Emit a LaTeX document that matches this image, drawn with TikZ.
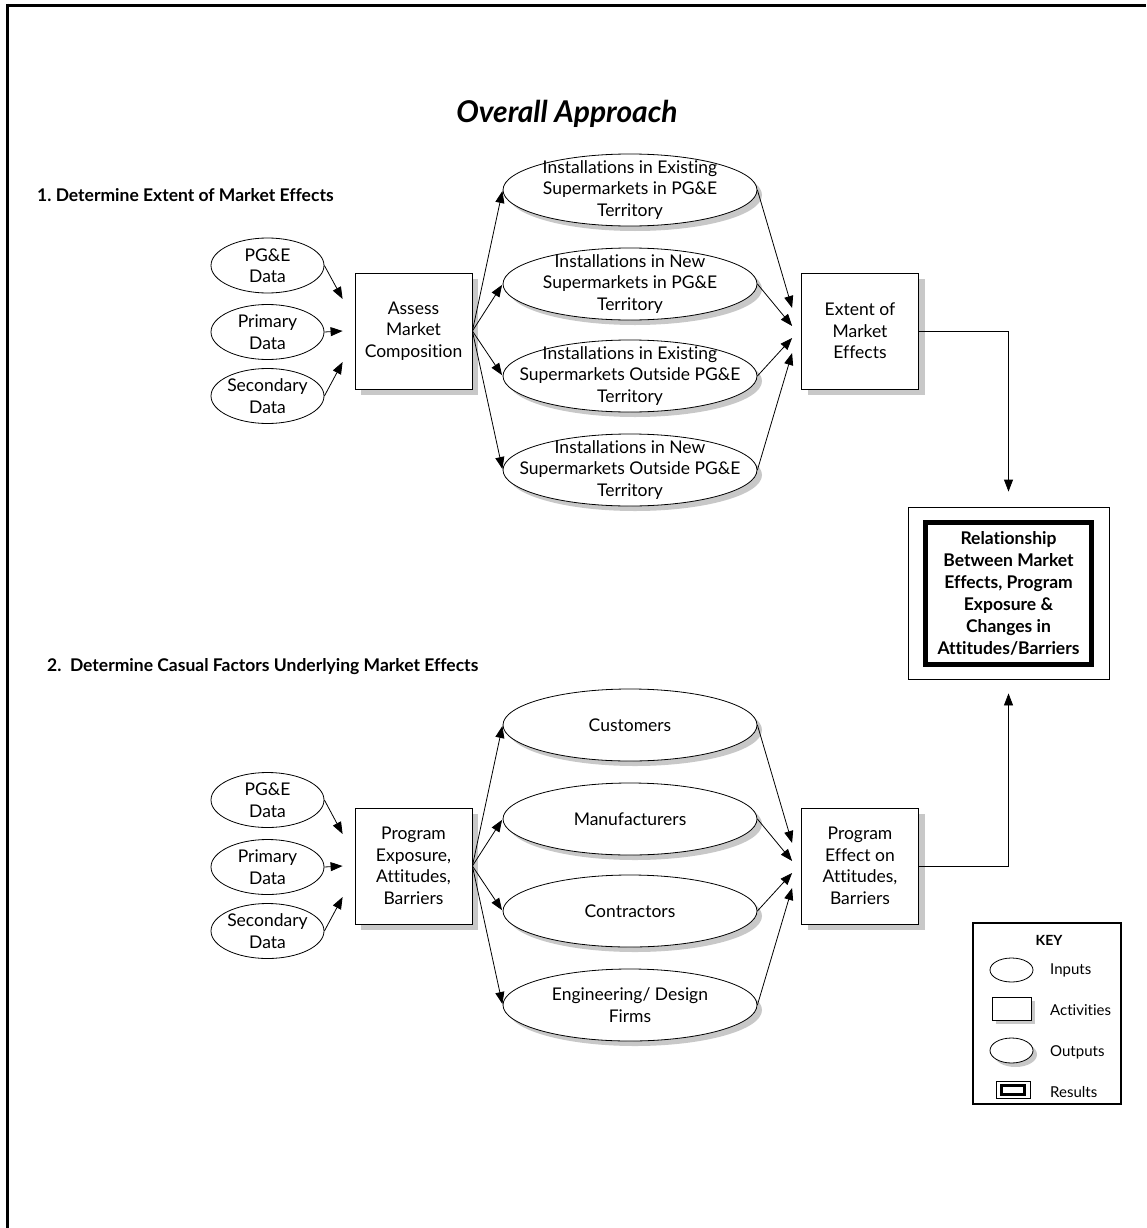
\documentclass[tikz,border=0pt]{standalone}
\usepackage{fontspec}
\setmainfont{Lato}[Ligatures={NoCommon}]
\usetikzlibrary{shapes.geometric,arrows.meta,shadows,calc}
\definecolor{shadowgray}{RGB}{200,200,200}
\begin{document}
\begin{tikzpicture}[x=1pt,y=-1pt,
  txt/.style={font=\fontsize{17.5}{21.5}\selectfont, align=center, inner sep=0},
  btxt/.style={font=\fontsize{17.5}{22}\selectfont\bfseries, align=center, inner sep=0},
  shad/.style={general shadow={fill=shadowgray, shadow xshift=#1, shadow yshift=-#1}},
  shad/.default=6pt,
  inell/.style={draw, ellipse, fill=white, minimum width=113, minimum height=55, inner sep=0, line width=0.8pt},
  outell/.style={draw, ellipse, fill=white, minimum width=254, minimum height=72, inner sep=0, line width=0.8pt, shad=5pt},
  actbox/.style={draw, fill=white, minimum width=117, minimum height=116, inner sep=0, line width=0.8pt, shad},
  arr/.style={-{Triangle[length=12pt,width=9pt]}, line width=0.8pt},
  keytxt/.style={font=\fontsize{15}{17}\selectfont, anchor=west, inner sep=0},
  headtxt/.style={anchor=west, font=\fontsize{17.5}{20}\selectfont\bfseries, inner sep=0}
]
\useasboundingbox (0,0) rectangle (1146,1228);
% frame
\draw[line width=3pt] (6,5.5) -- (1146,5.5);
\draw[line width=3pt] (7.5,4) -- (7.5,1228);

% title and headings
\node[font=\fontsize{30}{33}\selectfont\bfseries\itshape] (title) at (567,114) {Overall Approach};
\node[headtxt] (h1) at (37,195) {1.\ Determine Extent of Market Effects};
\node[headtxt] (h2) at (47,667) {2.\ \ Determine Casual Factors Underlying Market Effects};

% ---------- section 1 ----------
\node[inell, label={[txt]center:PG\&E\\Data}] (a1) at (267.5,265.5) {};
\node[inell, label={[txt]center:Primary\\Data}] (a2) at (267.5,332) {};
\node[inell, label={[txt]center:Secondary\\Data}] (a3) at (267.5,396) {};
\node[actbox, txt] (amc) at (413.5,331) {Assess\\Market\\Composition};
\node[outell, label={[txt]center:Installations in Existing\\Supermarkets in PG\&E\\Territory}] (o1) at (630,190) {};
\node[outell, label={[txt]center:Installations in New\\Supermarkets in PG\&E\\Territory}] (o2) at (630,284) {};
\node[outell, label={[txt]center:Installations in Existing\\Supermarkets Outside PG\&E\\Territory}] (o3) at (630,376) {};
\node[outell, label={[txt]center:Installations in New\\Supermarkets Outside PG\&E\\Territory}] (o4) at (630,470) {};
\node[actbox, txt] (ext) at (860,331) {Extent of\\Market\\Effects};

\draw[arr] (a1.east) -- ($(amc.west)+(-12,-32)$);
\draw[arr] (a2.east) -- ($(amc.west)+(-12,0)$);
\draw[arr] (a3.east) -- ($(amc.west)+(-12,31)$);
\foreach \o in {o1,o2,o3,o4} \draw[arr, shorten >=1pt] (amc.east) -- (\o.west);
\draw[arr] (o1.east) -- ($(ext.west)+(-9,-23)$);
\draw[arr] (o2.east) -- ($(ext.west)+(-9,-5)$);
\draw[arr] (o3.east) -- ($(ext.west)+(-9,7)$);
\draw[arr] (o4.east) -- ($(ext.west)+(-9,22)$);

% ---------- results ----------
\node[draw, line width=0.8pt, minimum width=201, minimum height=172, inner sep=0] (res) at (1008.5,593) {};
\node[draw, line width=5pt, minimum width=166, minimum height=142, inner sep=0, btxt] (resin) at (1008.5,593.5)
  {Relationship\\Between Market\\Effects, Program\\Exposure \&\\Changes in\\Attitudes/Barriers};
\draw[arr] (ext.east) -| ($(res.north)+(0,-15)$);

% ---------- section 2 ----------
\node[inell, label={[txt]center:PG\&E\\Data}] (b1) at (267.5,800) {};
\node[inell, label={[txt]center:Primary\\Data}] (b2) at (267.5,867) {};
\node[inell, label={[txt]center:Secondary\\Data}] (b3) at (267.5,931) {};
\node[actbox, txt] (pea) at (413.5,866) {Program\\Exposure,\\Attitudes,\\Barriers};
\node[outell, label={[txt]center:Customers}] (p1) at (630,725) {};
\node[outell, label={[txt]center:Manufacturers}] (p2) at (630,819) {};
\node[outell, label={[txt]center:Contractors}] (p3) at (630,911) {};
\node[outell, label={[txt]center:Engineering/ Design\\Firms}] (p4) at (630,1005) {};
\node[actbox, txt] (pef) at (860,866) {Program\\Effect on\\Attitudes,\\Barriers};

\draw[arr] (b1.east) -- ($(pea.west)+(-12,-32)$);
\draw[arr] (b2.east) -- ($(pea.west)+(-12,0)$);
\draw[arr] (b3.east) -- ($(pea.west)+(-12,31)$);
\foreach \o in {p1,p2,p3,p4} \draw[arr, shorten >=1pt] (pea.east) -- (\o.west);
\draw[arr] (p1.east) -- ($(pef.west)+(-9,-23)$);
\draw[arr] (p2.east) -- ($(pef.west)+(-9,-5)$);
\draw[arr] (p3.east) -- ($(pef.west)+(-9,7)$);
\draw[arr] (p4.east) -- ($(pef.west)+(-9,22)$);
\draw[arr] (pef.east) -| ($(res.south)+(0,14)$);

% ---------- key ----------
\node[draw, line width=2pt, minimum width=148, minimum height=181, inner sep=0] (key) at (1047,1013.5) {};
\node[font=\fontsize{14}{16}\selectfont\bfseries, inner sep=0] (keyt) at (1049,940) {KEY};
\node[draw, ellipse, minimum width=43, minimum height=24, inner sep=0, line width=0.8pt] (kin) at (1011.5,970) {};
\node[keytxt] (kint) at (1050,970) {Inputs};
\node[draw, fill=white, minimum width=39, minimum height=23, inner sep=0, line width=0.8pt, shad=4pt] (kact) at (1011.5,1008.5) {};
\node[keytxt] (kactt) at (1050,1010) {Activities};
\node[draw, ellipse, fill=white, minimum width=43, minimum height=25, inner sep=0, line width=0.8pt, shad=4pt] (kout) at (1011.5,1050.5) {};
\node[keytxt] (koutt) at (1050,1052) {Outputs};
\node[draw, minimum width=34, minimum height=17, inner sep=0, line width=0.8pt] (kres) at (1013,1089.5) {};
\node[draw, line width=3pt, minimum width=23, minimum height=9, inner sep=0] (kresin) at (1013,1089.5) {};
\node[keytxt] (krest) at (1050,1092) {Results};
\end{tikzpicture}
\end{document}
